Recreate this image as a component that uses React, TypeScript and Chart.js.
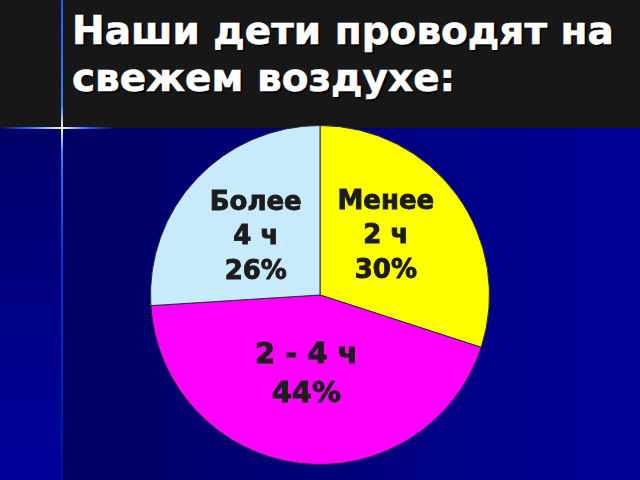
import * as React from 'react';
import { useEffect, useRef } from 'react';
import { Chart, registerables } from 'chart.js';

Chart.register(...registerables);

const TITLE_LINES = ['Наши дети проводят на', 'свежем воздухе:'];
const categories = ['Менее 2 ч', '2 - 4 ч', 'Более 4 ч'];
const labelLines = [['Менее', '2 ч'], ['2 - 4 ч'], ['Более', '4 ч']];
const shares = [30, 44, 26];
const sliceColors = ['#ffff00', '#ff00ff', '#c7eafd'];
const labelFontSizes = [26, 29, 26];
const labelRadius = [0.53, 0.46, 0.52];
const labelAngleShift = [-0.12, 0.05, 0];

// draws the text block inside each slice, near the middle of its angle
const sliceLabels = {
  id: 'sliceLabels',
  afterDatasetsDraw(chart: any) {
    const ctx = chart.ctx;
    const meta = chart.getDatasetMeta(0);
    meta.data.forEach((arc: any, i: number) => {
      const p = arc.getProps(['x', 'y', 'startAngle', 'endAngle', 'outerRadius'], true);
      const mid = (p.startAngle + p.endAngle) / 2 + labelAngleShift[i];
      const r = p.outerRadius * labelRadius[i];
      const cx = p.x + Math.cos(mid) * r;
      const cy = p.y + Math.sin(mid) * r;
      const size = labelFontSizes[i];
      const lh = size * 1.33;
      const lines = [...labelLines[i], `${shares[i]}%`];
      ctx.save();
      ctx.font = `bold ${size}px "DejaVu Sans"`;
      ctx.fillStyle = '#1c1c1c';
      ctx.strokeStyle = '#1c1c1c';
      ctx.lineWidth = 0.9;
      ctx.textAlign = 'center';
      ctx.textBaseline = 'alphabetic';
      const cap = size * 0.73;
      const top = cy - ((lines.length - 1) * lh) / 2 + cap / 2;
      lines.forEach((t, k) => {
        ctx.fillText(t, cx, top + k * lh);
        ctx.strokeText(t, cx, top + k * lh);
      });
      ctx.restore();
    });
  }
};

const PieChart = () => {
  const canvasRef = useRef<HTMLCanvasElement>(null);

  useEffect(() => {
    const chart = new Chart(canvasRef.current!, {
      type: 'pie',
      data: {
        labels: categories,
        datasets: [{
          data: shares,
          backgroundColor: sliceColors,
          borderColor: '#2a2a3a',
          borderWidth: 1
        }]
      },
      options: {
        animation: false,
        responsive: true,
        maintainAspectRatio: false,
        layout: { padding: 0 },
        plugins: {
          legend: { display: false },
          tooltip: { enabled: false }
        }
      },
      plugins: [sliceLabels]
    });
    return () => chart.destroy();
  }, []);

  return <div style={{ position: 'absolute', left: 150, top: 125, width: 340, height: 340 }}>
    <canvas ref={canvasRef} />
  </div>;
};

export default function App() {
  return <div style={{
    position: 'fixed', left: 0, top: 0, width: 640, height: 480, overflow: 'hidden',
    background: 'linear-gradient(to right, #00005e 0%, #000080 60%, #000096 100%)'
  }}>
    {/* left strip */}
    <div style={{
      position: 'absolute', left: 0, top: 128, width: 62, height: 352,
      background: 'linear-gradient(to bottom, #00006a, #00009c)'
    }} />
    {/* header band */}
    <div style={{ position: 'absolute', left: 0, top: 0, width: 640, height: 128, background: '#171717' }} />
    {/* sparkle lines */}
    <div style={{
      position: 'absolute', left: 61, top: 0, width: 2, height: 480,
      background: 'linear-gradient(to bottom, #1a5cff 0%, #3a7cff 22%, #fffbe0 26.7%, #3a7cff 32%, #0a3ad8 50%, #00109c 100%)'
    }} />
    <div style={{
      position: 'absolute', left: 0, top: 127, width: 115, height: 2,
      background: 'linear-gradient(to right, rgba(40,100,255,0) 0%, #2a6cff 25%, #fffbe0 54%, #2a6cff 75%, rgba(40,100,255,0) 100%)'
    }} />
    <div style={{
      position: 'absolute', left: 72, top: 7, color: '#ffffff',
      font: 'bold 39px "DejaVu Sans"', lineHeight: '47px', whiteSpace: 'nowrap',
      textShadow: '2px 2px 1px #000000', WebkitTextStroke: '0.6px #ffffff'
    }}>
      {TITLE_LINES.map((t, i) => <div key={i}>{t}</div>)}
    </div>
    <PieChart />
  </div>;
}
